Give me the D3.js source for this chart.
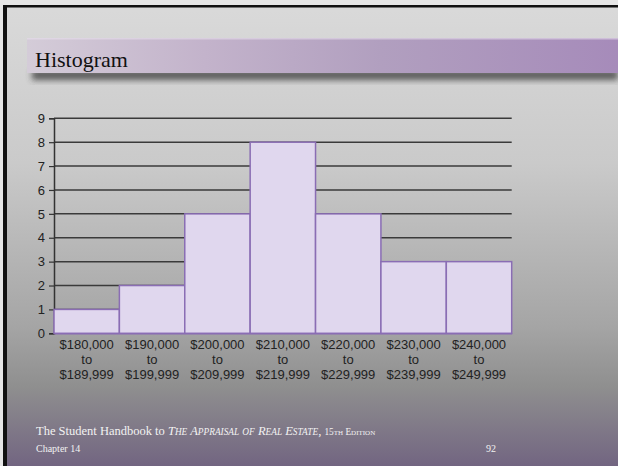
<!DOCTYPE html>
<html><head><meta charset="utf-8">
<script src="https://cdn.jsdelivr.net/npm/d3@7"></script>
<style>html,body{margin:0;padding:0;overflow:hidden;background:#fff}</style>
</head><body>
<script>
const categories = ["$180,000|to|$189,999","$190,000|to|$199,999","$200,000|to|$209,999","$210,000|to|$219,999","$220,000|to|$229,999","$230,000|to|$239,999","$240,000|to|$249,999"];
const counts = [1,2,5,8,5,3,3];
const yTicks = [0,1,2,3,4,5,6,7,8,9];
const title = "Histogram";

const W=618,H=466;
const svg=d3.select("body").append("svg").attr("width",W).attr("height",H);
const defs=svg.append("defs");
const bg=defs.append("linearGradient").attr("id","bg").attr("x1",0).attr("y1",0).attr("x2",0).attr("y2",1);
[[0,"#dadada"],[0.35,"#cacaca"],[0.7,"#a5a5a5"],[0.83,"#8f8f8f"],[1,"#726581"]].forEach(s=>bg.append("stop").attr("offset",s[0]).attr("stop-color",s[1]));
const tb=defs.append("linearGradient").attr("id","tb").attr("x1",0).attr("y1",0).attr("x2",1).attr("y2",0);
[[0,"#d4ccd8"],[0.3,"#c3b3cb"],[0.6,"#b19fbf"],[1,"#a68bba"]].forEach(s=>tb.append("stop").attr("offset",s[0]).attr("stop-color",s[1]));
const blur=defs.append("filter").attr("id","blur").attr("x","-10%").attr("y","-50%").attr("width","120%").attr("height","200%");
blur.append("feGaussianBlur").attr("stdDeviation",3);

svg.append("rect").attr("width",W).attr("height",H).attr("fill","url(#bg)");
// slide frame
svg.append("rect").attr("x",0).attr("y",0).attr("width",W).attr("height",5).attr("fill","#e6e6e6");
svg.append("rect").attr("x",0).attr("y",0).attr("width",3).attr("height",H).attr("fill","#e6e6e6");
svg.append("rect").attr("x",3).attr("y",5).attr("width",W-3).attr("height",2.5).attr("fill","#111");
svg.append("rect").attr("x",3).attr("y",5).attr("width",4).attr("height",H-5).attr("fill","#111");

// title bar
svg.append("rect").attr("x",32).attr("y",70).attr("width",W-32).attr("height",10).attr("fill","#333").attr("opacity",0.75).attr("filter","url(#blur)");
svg.append("rect").attr("x",27).attr("y",38).attr("width",W-27).attr("height",35).attr("fill","url(#tb)");
svg.append("rect").attr("x",27).attr("y",38).attr("width",W-27).attr("height",1.5).attr("fill","#e8e0ec").attr("opacity",0.6);
svg.append("text").attr("x",35).attr("y",67).attr("font-family","Liberation Serif, serif").attr("font-size",22).attr("fill","#111").text(title);

// chart
const x=d3.scaleBand().domain(categories).range([54,511.7]).padding(0);
const y=d3.scaleLinear().domain([0,9]).range([333.3,118.3]);

const g=svg.append("g");
g.selectAll("line.grid").data(yTicks.filter(d=>d>0)).join("line").attr("class","grid")
 .attr("x1",54).attr("x2",511.7).attr("y1",d=>y(d)).attr("y2",d=>y(d))
 .attr("stroke","#3a3a3a").attr("stroke-width",1.5);

const yAxis=d3.axisLeft(y).tickValues(yTicks).tickSize(5).tickPadding(4).tickFormat(d3.format("d"));
const ya=g.append("g").attr("transform","translate(54,0)").call(yAxis);
ya.select(".domain").attr("stroke","#333").attr("stroke-width",1.5);
ya.selectAll(".tick line").attr("stroke","#333").attr("stroke-width",1.2);
ya.selectAll(".tick text").attr("font-family","Liberation Sans, Arial, sans-serif").attr("font-size",13).attr("fill","#222");

g.selectAll("rect.bar").data(counts).join("rect").attr("class","bar")
 .attr("x",(d,i)=>x(categories[i])).attr("y",d=>y(d))
 .attr("width",x.bandwidth()).attr("height",d=>y(0)-y(d))
 .attr("fill","#e0d7ee").attr("stroke","#8a6db4").attr("stroke-width",1.5);

const xa=g.append("g").attr("transform","translate(0,333.3)").call(d3.axisBottom(x).tickSize(0).tickFormat(""));
xa.select(".domain").attr("stroke","#8a6db4").attr("stroke-width",1.5);
categories.forEach(c=>{
  const t=g.append("text").attr("text-anchor","middle").attr("font-family","Liberation Sans, Arial, sans-serif").attr("font-size",13).attr("fill","#222");
  c.split("|").forEach((ln,k)=>t.append("tspan").attr("x",x(c)+x.bandwidth()/2).attr("y",348.5+k*15).text(ln));
});

// footer
function smallCaps(textEl, str, big, small, italic){
  for(const ch of str){
    const isLower = ch>="a"&&ch<="z";
    const sp=textEl.append("tspan").attr("font-size",isLower?small:big).text(isLower?ch.toUpperCase():ch);
    if(italic) sp.attr("font-style","italic");
  }
}
const f=svg.append("text").attr("x",36).attr("y",435).attr("font-family","Liberation Serif, serif").attr("fill","#f2f2f2");
f.append("tspan").attr("font-size",12.5).text("The Student Handbook to ");
smallCaps(f,"The Appraisal of Real Estate",12.5,9.3,true);
f.append("tspan").attr("font-size",12.5).text(", ");
f.append("tspan").attr("font-size",9.3).text("15");
smallCaps(f,"th Edition",9.3,7,false);
svg.append("text").attr("x",36).attr("y",452).attr("font-family","Liberation Serif, serif").attr("font-size",10).attr("fill","#f2f2f2").text("Chapter 14");
svg.append("text").attr("x",496).attr("y",452).attr("text-anchor","end").attr("font-family","Liberation Serif, serif").attr("font-size",10).attr("fill","#f2f2f2").text("92");
</script>
</body></html>
